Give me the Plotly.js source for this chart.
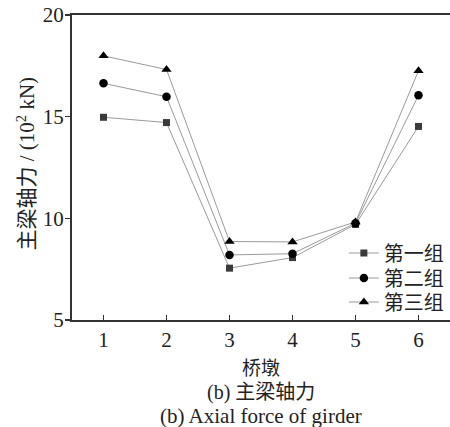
<!DOCTYPE html>
<html><head><meta charset="utf-8">
<script src="https://cdn.plot.ly/plotly-3.0.1.min.js"></script>
<style>html,body{margin:0;padding:0;background:#fff}</style>
</head><body><div id="c" style="width:450px;height:427px"></div>
<script>
const piers = [1, 2, 3, 4, 5, 6];
const group1 = [14.97, 14.71, 7.55, 8.07, 9.70, 14.52];
const group2 = [16.64, 15.98, 8.20, 8.26, 9.76, 16.05];
const group3 = [17.99, 17.32, 8.86, 8.84, 9.82, 17.26];
const names = ['第一组', '第二组', '第三组'];
const xTicks = [1, 2, 3, 4, 5, 6];
const yTicks = [5, 10, 15, 20];

const FONT = 'Liberation Serif, "Times New Roman", "Noto Sans CJK SC", serif';
const lineStyle = {color: '#9a9a9a', width: 1};

const traces = [
  {x: piers, y: group1, name: names[0], mode: 'lines+markers', line: lineStyle, legend: 'legend',
   marker: {symbol: 'square', size: 7, color: '#3a3a3a'}},
  {x: piers, y: group2, name: names[1], mode: 'lines+markers', line: lineStyle, legend: 'legend2',
   marker: {symbol: 'circle', size: 8.5, color: '#000'}},
  {x: piers, y: group3, name: names[2], mode: 'lines+markers', line: lineStyle, legend: 'legend3',
   marker: {symbol: 'triangle-up', size: 9, color: '#000'}}
];

function leg(ypx) {
  return {x: 0.997, xanchor: 'right', y: (320 - ypx) / 305, yanchor: 'middle',
          bgcolor: 'rgba(0,0,0,0)', font: {size: 20, family: FONT}};
}

const layout = {
  width: 450, height: 427,
  margin: {l: 72, r: 0, t: 15, b: 107, pad: 0},
  paper_bgcolor: '#fff', plot_bgcolor: '#fff',
  font: {family: FONT, size: 20, color: '#222'},
  showlegend: true,
  legend: leg(253), legend2: leg(278), legend3: leg(302),
  xaxis: {range: [0.5, 6.5], tickvals: xTicks, ticks: 'inside', ticklen: 5,
          tickwidth: 1.5, tickcolor: '#333', showline: true, linecolor: '#333',
          linewidth: 2, mirror: true, showgrid: false, zeroline: false,
          tickfont: {size: 21},
          title: {text: '桥墩', font: {size: 19}, standoff: 10}},
  yaxis: {range: [5, 20], tickvals: yTicks, ticks: 'outside', ticklen: 5,
          tickwidth: 1.5, tickcolor: '#333', showline: true, linecolor: '#333',
          linewidth: 2, showgrid: false, zeroline: false,
          tickfont: {size: 21}, ticklabelstandoff: -3},
  annotations: [
    {text: '主梁轴力 / (10<sup>2</sup> kN)', xref: 'paper', yref: 'paper',
     x: (26 - 72) / 378, y: (320 - 163.5) / 305, textangle: -90,
     xanchor: 'center', yanchor: 'middle', showarrow: false, font: {size: 21}},
    {text: '(b) 主梁轴力', xref: 'paper', yref: 'paper', x: 0.5, y: -0.238,
     xanchor: 'center', yanchor: 'middle', showarrow: false, font: {size: 20}},
    {text: '(b) Axial force of girder', xref: 'paper', yref: 'paper', x: 0.5, y: -0.314,
     xanchor: 'center', yanchor: 'middle', showarrow: false, font: {size: 21}}
  ]
};
Plotly.newPlot('c', traces, layout, {staticPlot: true, displayModeBar: false});
</script></body></html>
